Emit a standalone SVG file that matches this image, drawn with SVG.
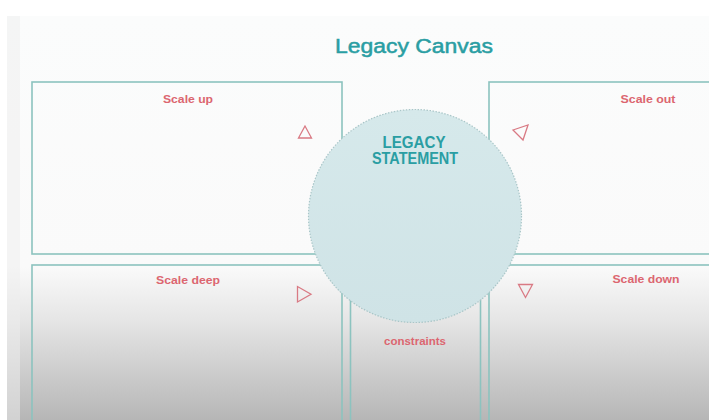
<svg xmlns="http://www.w3.org/2000/svg" width="709" height="420" viewBox="0 0 709 420">
<defs>
<linearGradient id="bg" x1="0" y1="0" x2="0" y2="1">
<stop offset="0" stop-color="#fbfcfc"/>
<stop offset="0.62" stop-color="#fafafa"/>
<stop offset="0.75" stop-color="#e6e6e6"/>
<stop offset="1" stop-color="#b6b6b6"/>
</linearGradient>
<linearGradient id="circ" x1="0" y1="0" x2="0" y2="1">
<stop offset="0" stop-color="#d6e9eb"/>
<stop offset="1" stop-color="#cfe3e6"/>
</linearGradient>
<style>
.box{fill:none;stroke:#8cc3bf;stroke-width:1.6}
.lbl{font-family:"Liberation Sans",Arial,sans-serif;font-weight:bold;font-size:10.5px;fill:#dc6670;text-anchor:middle}
.tri{fill:none;stroke:#d97a84;stroke-width:1.3;stroke-linejoin:miter}
.teal{font-family:"Liberation Sans",Arial,sans-serif;fill:#2a9ea3;text-anchor:middle}
</style>
</defs>
<rect x="0" y="0" width="709" height="420" fill="#ffffff"/>
<rect x="7" y="16" width="702" height="404" fill="url(#bg)"/>
<rect x="7" y="16" width="13" height="404" fill="#eeeeee" opacity="0.5"/>
<text class="teal" x="414" y="53" font-size="20" stroke="#2a9ea3" stroke-width="0.5" textLength="158" lengthAdjust="spacingAndGlyphs">Legacy Canvas</text>
<g id="scale-up">
<rect class="box" x="32" y="82" width="310" height="172"/>
<text class="lbl" x="188" y="103" textLength="50" lengthAdjust="spacingAndGlyphs">Scale up</text>
<polygon class="tri" points="305,126 298.5,138 311.5,138"/>
</g>
<g id="scale-out">
<rect class="box" x="489" y="82" width="230" height="172"/>
<text class="lbl" x="648" y="103" textLength="55" lengthAdjust="spacingAndGlyphs">Scale out</text>
<polygon class="tri" points="513,130 528,125 523,140"/>
</g>
<g id="scale-deep">
<rect class="box" x="32" y="265" width="310" height="170"/>
<text class="lbl" x="188" y="284" textLength="64" lengthAdjust="spacingAndGlyphs">Scale deep</text>
<polygon class="tri" points="297.5,286.5 297.5,302 311,294.25"/>
</g>
<g id="scale-down">
<rect class="box" x="489" y="265" width="230" height="170"/>
<text class="lbl" x="646" y="283" textLength="67" lengthAdjust="spacingAndGlyphs">Scale down</text>
<polygon class="tri" points="518.5,284.5 532.5,284.5 525.5,297.5"/>
</g>
<g id="constraints">
<rect class="box" x="350.5" y="240" width="130" height="195"/>
<text class="lbl" x="415" y="345" textLength="62" lengthAdjust="spacingAndGlyphs">constraints</text>
</g>
<g id="legacy-statement">
<circle cx="415" cy="216" r="106.5" fill="url(#circ)" stroke="#a9c6c8" stroke-width="1.2" stroke-dasharray="1.5 1.5"/>
<text class="teal" x="414" y="148" font-size="16" font-weight="bold" textLength="63" lengthAdjust="spacingAndGlyphs">LEGACY</text>
<text class="teal" x="415" y="164" font-size="16" font-weight="bold" textLength="86" lengthAdjust="spacingAndGlyphs">STATEMENT</text>
</g>
<g id="connectors"></g>
</svg>
